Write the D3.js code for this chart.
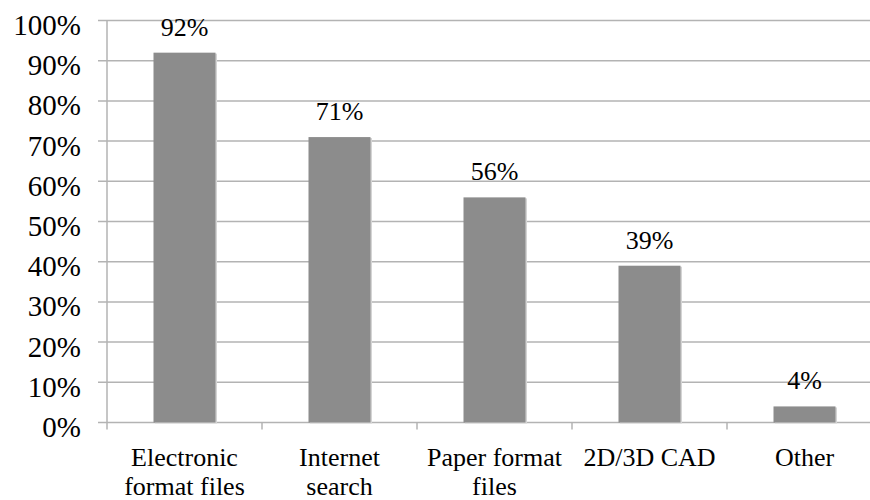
<!DOCTYPE html>
<html>
<head>
<meta charset="utf-8">
<script src="https://cdn.jsdelivr.net/npm/d3@7"></script>
</head>
<body style="margin:0">
<svg id="chart" width="870" height="500"></svg>
<script>
// Share of respondents by information source
const categories = [
  ["Electronic", "format files"],
  ["Internet", "search"],
  ["Paper format", "files"],
  ["2D/3D CAD"],
  ["Other"]
];
const values = [92, 71, 56, 39, 4];
const yTicks = [0, 10, 20, 30, 40, 50, 60, 70, 80, 90, 100];

const serif = "'Times New Roman'";

const svg = d3.select("#chart");
const plot = { left: 107, right: 882, top: 20.5, bottom: 422.5 };

const x = d3.scaleBand()
  .domain(d3.range(categories.length))
  .range([plot.left, plot.right])
  .paddingInner(0).paddingOuter(0);

const y = d3.scaleLinear().domain([0, 100]).range([plot.bottom, plot.top]);

// horizontal gridlines with short outward ticks
svg.append("g")
  .selectAll("line")
  .data(yTicks)
  .join("line")
  .attr("x1", plot.left - 9)
  .attr("x2", 870)
  .attr("y1", d => y(d))
  .attr("y2", d => y(d))
  .attr("stroke", "#b3b3b3")
  .attr("stroke-width", 1.5);

// y tick labels
svg.selectAll("text.ytick")
  .data(yTicks)
  .join("text")
  .attr("class", "ytick")
  .attr("x", 81)
  .attr("y", d => y(d) + 14.5)
  .attr("text-anchor", "end")
  .style("font-family", () => serif)
  .style("font-size", "29px")
  .text(d => d + "%");

// faint shadow strip along each bar's right and bottom edge
svg.selectAll("rect.shade")
  .data(values)
  .join("rect")
  .attr("class", "shade")
  .attr("x", (d, i) => x(i) + x.bandwidth() * 0.3 + 1.5)
  .attr("width", x.bandwidth() * 0.4)
  .attr("y", d => y(d) + 1)
  .attr("height", d => y(0) - y(d))
  .attr("fill", "#d4d4d4");

// bars
svg.selectAll("rect.bar")
  .data(values)
  .join("rect")
  .attr("class", "bar")
  .attr("x", (d, i) => x(i) + x.bandwidth() * 0.3)
  .attr("width", x.bandwidth() * 0.4)
  .attr("y", d => y(d))
  .attr("height", d => y(0) - y(d))
  .attr("fill", "#8c8c8c");

// value labels
svg.selectAll("text.value")
  .data(values)
  .join("text")
  .attr("class", "value")
  .attr("x", (d, i) => x(i) + x.bandwidth() / 2)
  .attr("y", d => y(d) - 17)
  .attr("text-anchor", "middle")
  .style("font-family", () => serif)
  .style("font-size", "26px")
  .text(d => d + "%");

// axis line and category ticks
svg.append("line")
  .attr("stroke", "#b3b3b3").attr("stroke-width", 1.5)
  .attr("x1", plot.left).attr("x2", plot.left)
  .attr("y1", plot.top).attr("y2", plot.bottom + 7);
svg.selectAll("line.tick")
  .data(d3.range(1, categories.length + 1))
  .join("line")
  .attr("class", "tick")
  .attr("stroke", "#b3b3b3").attr("stroke-width", 1.5)
  .attr("x1", d => plot.left + d * x.bandwidth())
  .attr("x2", d => plot.left + d * x.bandwidth())
  .attr("y1", plot.bottom)
  .attr("y2", plot.bottom + 7);

// category labels, one text per line
const lines = categories.flatMap((c, i) => c.map((t, j) => ({ t, i, j })));
svg.selectAll("text.cat")
  .data(lines)
  .join("text")
  .attr("class", "cat")
  .attr("x", d => x(d.i) + x.bandwidth() / 2)
  .attr("y", d => 466 + d.j * 29)
  .attr("text-anchor", "middle")
  .style("font-family", () => serif)
  .style("font-size", "26px")
  .text(d => d.t);
</script>
</body>
</html>
